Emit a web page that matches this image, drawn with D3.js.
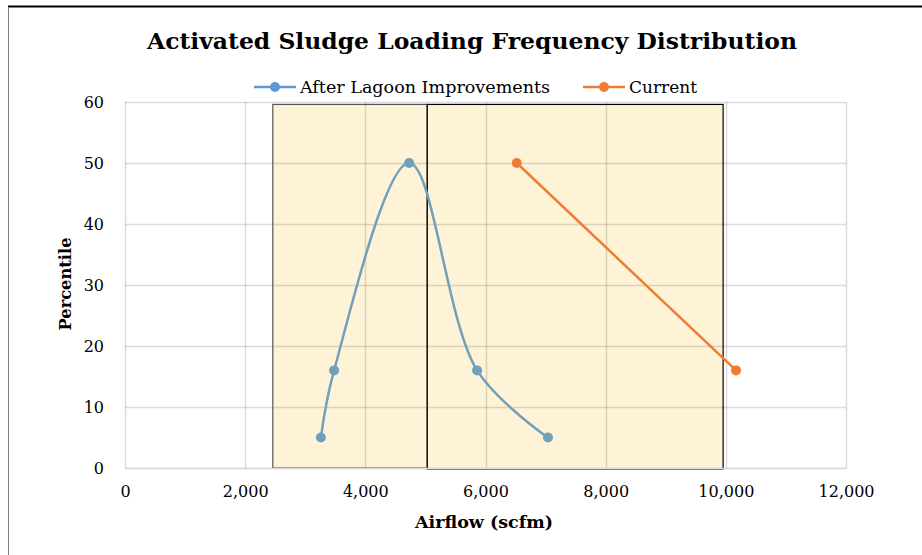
<!DOCTYPE html>
<html><head><meta charset="utf-8">
<script src="https://cdn.jsdelivr.net/npm/d3@7"></script>
<style>
html,body{margin:0;padding:0;background:#fff;}
svg{display:block;font-family:"DejaVu Serif","Liberation Serif",serif;}
</style></head>
<body><svg id="c" width="922" height="555"></svg>
<script>
// Data
const afterX = [3260, 3480, 4730, 5860, 7040];
const afterY = [5, 16, 50, 16, 5];
const currentX = [6520, 10170];
const currentY = [50, 16];
const xTicks = [0, 2000, 4000, 6000, 8000, 10000, 12000];
const yTicks = [0, 10, 20, 30, 40, 50, 60];
const bandStart = [2460, 5030];
const bandEnd = [5030, 9955];
const bandTop = [59.6, 59.6];
const seriesNames = ["After Lagoon Improvements", "Current"];

const svg = d3.select("#c");
const m = {l:125, r:846, t:102, b:468};
const x = d3.scaleLinear().domain([0, 12000]).range([m.l, m.r]);
const y = d3.scaleLinear().domain([0, 60]).range([m.b, m.t]);

// frame
svg.append("line").attr("x1",8).attr("x2",922).attr("y1",6.5).attr("y2",6.5).attr("stroke","#000").attr("stroke-width",2);
svg.append("line").attr("x1",8.5).attr("x2",8.5).attr("y1",7).attr("y2",555).attr("stroke","#808080").attr("stroke-width",1);

// title
svg.append("text").attr("x",472).attr("y",49).attr("text-anchor","middle")
  .attr("font-weight","bold").attr("font-size",23).attr("fill","#000")
  .attr("textLength",650).attr("lengthAdjust","spacingAndGlyphs")
  .text("Activated Sludge Loading Frequency Distribution");

// band fills (under grid)
bandStart.forEach((s,i)=>{
  svg.append("rect").attr("x",x(s)).attr("y",y(bandTop[i]))
    .attr("width",x(bandEnd[i])-x(s)).attr("height",y(0)-y(bandTop[i]))
    .attr("fill","#fff3d7");
});

// gridlines
const grid = svg.append("g");
grid.selectAll(".gx").data(xTicks).join("line")
  .attr("x1",d=>Math.round(x(d))+0.5).attr("x2",d=>Math.round(x(d))+0.5)
  .attr("y1",m.t).attr("y2",m.b).attr("stroke","#000").attr("stroke-opacity",0.14).attr("stroke-width",1.5);
grid.selectAll(".gy").data(yTicks).join("line")
  .attr("x1",m.l).attr("x2",m.r)
  .attr("y1",d=>Math.round(y(d))+0.5).attr("y2",d=>Math.round(y(d))+0.5)
  .attr("stroke","#000").attr("stroke-opacity",0.14).attr("stroke-width",1.5);

// band borders
const bandColors = ["#555", "#000"];
bandStart.forEach((s,i)=>{
  svg.append("rect").attr("x",x(s)).attr("y",y(bandTop[i]))
    .attr("width",x(bandEnd[i])-x(s)).attr("height",y(0)-y(bandTop[i]) + (i===1?1:0))
    .attr("fill","none")
    .attr("stroke",bandColors[i]).attr("stroke-width",1.2);
});

// axes
const xAxis = d3.axisBottom(x).tickValues(xTicks).tickSize(0).tickPadding(18)
  .tickFormat(d3.format(","));
const gx = svg.append("g").attr("transform",`translate(0,${m.b})`).call(xAxis);
gx.select(".domain").attr("stroke","#d9d9d9").attr("stroke-width",1.5);
gx.selectAll("text").attr("font-size",16).attr("fill","#000").attr("font-family","DejaVu Serif, serif");

const yAxis = d3.axisLeft(y).tickValues(yTicks).tickSize(0).tickPadding(21);
const gy = svg.append("g").attr("transform",`translate(${m.l},0)`).call(yAxis);
gy.select(".domain").remove();
gy.selectAll("text").attr("font-size",16).attr("fill","#000").attr("font-family","DejaVu Serif, serif");

// axis titles
svg.append("text").attr("x",484).attr("y",528).attr("text-anchor","middle")
  .attr("font-weight","bold").attr("font-size",16)
  .attr("textLength",138).attr("lengthAdjust","spacingAndGlyphs").text("Airflow (scfm)");
svg.append("text").attr("transform","translate(71,284) rotate(-90)").attr("text-anchor","middle")
  .attr("font-weight","bold").attr("font-size",16)
  .attr("textLength",93).attr("lengthAdjust","spacingAndGlyphs").text("Percentile");

// series
const blue = "#71a0ba", orange = "#ed7d31";
const afterData = afterX.map((v,i)=>[v, afterY[i]]);
const currData = currentX.map((v,i)=>[v, currentY[i]]);
svg.append("path").datum(afterData)
  .attr("d", d3.line().x(d=>x(d[0])).y(d=>y(d[1])).curve(d3.curveCatmullRom.alpha(0.5)))
  .attr("fill","none").attr("stroke",blue).attr("stroke-width",2.5);
svg.selectAll(".pa").data(afterData).join("circle")
  .attr("cx",d=>x(d[0])).attr("cy",d=>y(d[1])).attr("r",5).attr("fill",blue);
svg.append("path").datum(currData)
  .attr("d", d3.line().x(d=>x(d[0])).y(d=>y(d[1])))
  .attr("fill","none").attr("stroke",orange).attr("stroke-width",2.5);
svg.selectAll(".pc").data(currData).join("circle")
  .attr("cx",d=>x(d[0])).attr("cy",d=>y(d[1])).attr("r",5).attr("fill",orange);

// legend
const legColors = ["#5b9bd5", orange];
const legX = [254, 583];
const legW = [250, 68];
seriesNames.forEach((n,i)=>{
  const g = svg.append("g").attr("transform",`translate(${legX[i]},87)`);
  g.append("line").attr("x1",0).attr("x2",42).attr("stroke",legColors[i]).attr("stroke-width",2.5);
  g.append("circle").attr("cx",21).attr("r",5).attr("fill",legColors[i]);
  g.append("text").attr("x",46).attr("y",6).attr("font-size",16)
    .attr("textLength",legW[i]).attr("lengthAdjust","spacingAndGlyphs").text(n);
});
</script></body></html>
